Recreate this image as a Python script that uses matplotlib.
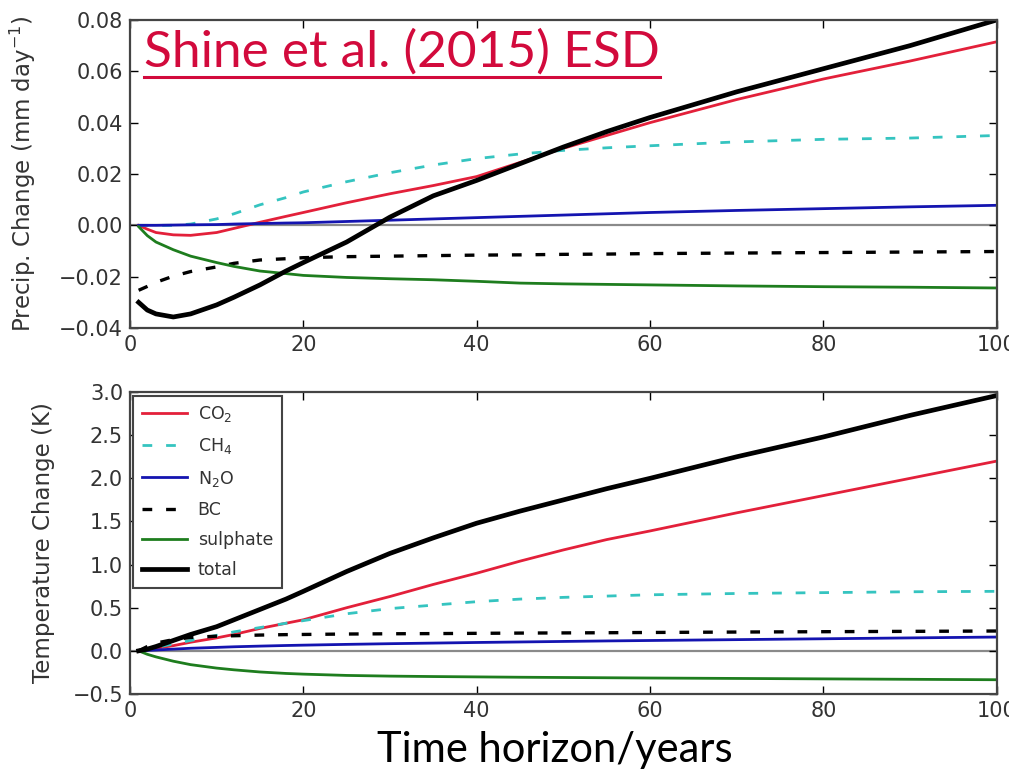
import matplotlib.pyplot as plt
from matplotlib.lines import Line2D

# time horizon (years) at which values were read
years = [1, 2, 3, 5, 7, 10, 12, 15, 18, 20, 25, 30, 35, 40, 45, 50, 55, 60, 70, 80, 90, 100]

# precipitation change (mm/day)
co2_p = [0, -0.0015, -0.0028, -0.0037, -0.0039, -0.0028, -0.0012, 0.0012, 0.0035, 0.005, 0.0088,
         0.0123, 0.0155, 0.019, 0.0245, 0.030, 0.035, 0.040, 0.049, 0.057, 0.064, 0.0715]
ch4_p = [0, 0, 0, 0, 0.0005, 0.0025, 0.0045, 0.008, 0.0108, 0.013, 0.017,
         0.0205, 0.0235, 0.026, 0.0278, 0.0292, 0.0302, 0.031, 0.0325, 0.0335, 0.034, 0.035]
n2o_p = [0, 0, 0, 0.0001, 0.0002, 0.0003, 0.0005, 0.0007, 0.0009, 0.001, 0.0015,
         0.002, 0.0025, 0.003, 0.0035, 0.004, 0.0045, 0.005, 0.0058, 0.0065, 0.0072, 0.0078]
bc_p = [-0.0253, -0.0238, -0.0222, -0.0198, -0.018, -0.0162, -0.0148, -0.0135, -0.013, -0.0126, -0.0122,
        -0.012, -0.0118, -0.0116, -0.0115, -0.0113, -0.0112, -0.011, -0.0108, -0.0106, -0.0104, -0.0102]
so4_p = [-0.0005, -0.004, -0.0065, -0.0095, -0.012, -0.0145, -0.016, -0.0178, -0.0188, -0.0195, -0.0203,
         -0.0208, -0.0212, -0.0218, -0.0225, -0.0228, -0.023, -0.0232, -0.0236, -0.0239, -0.0241, -0.0244]
total_p = [-0.030, -0.033, -0.0345, -0.0357, -0.0345, -0.031, -0.028, -0.0232, -0.0178, -0.0145, -0.0065,
           0.0032, 0.0115, 0.0175, 0.024, 0.0305, 0.0365, 0.042, 0.052, 0.061, 0.070, 0.080]

# temperature change (K)
co2_t = [0, 0.01, 0.03, 0.06, 0.1, 0.15, 0.19, 0.26, 0.32, 0.36, 0.5,
         0.63, 0.77, 0.9, 1.04, 1.17, 1.29, 1.39, 1.6, 1.8, 2.0, 2.2]
ch4_t = [0, 0.02, 0.04, 0.08, 0.12, 0.18, 0.22, 0.27, 0.32, 0.35, 0.43,
         0.49, 0.53, 0.57, 0.6, 0.62, 0.635, 0.65, 0.665, 0.675, 0.685, 0.69]
n2o_t = [0, 0.005, 0.01, 0.02, 0.03, 0.04, 0.047, 0.055, 0.062, 0.066, 0.075,
         0.083, 0.09, 0.097, 0.103, 0.109, 0.115, 0.12, 0.13, 0.14, 0.15, 0.16]
bc_t = [0, 0.05, 0.09, 0.13, 0.155, 0.17, 0.175, 0.183, 0.188, 0.19, 0.195,
        0.198, 0.2, 0.203, 0.206, 0.208, 0.21, 0.213, 0.218, 0.222, 0.226, 0.23]
so4_t = [0, -0.04, -0.07, -0.12, -0.16, -0.2, -0.22, -0.245, -0.262, -0.27, -0.285,
         -0.293, -0.298, -0.302, -0.306, -0.309, -0.312, -0.315, -0.32, -0.325, -0.33, -0.335]
total_t = [0, 0.02, 0.05, 0.12, 0.19, 0.28, 0.36, 0.48, 0.6, 0.69, 0.92,
           1.13, 1.31, 1.48, 1.62, 1.75, 1.88, 2.0, 2.25, 2.48, 2.73, 2.96]

labels = ['CO$_2$', 'CH$_4$', 'N$_2$O', 'BC', 'sulphate', 'total']

plt.rcParams['lines.scale_dashes'] = False

fig = plt.figure(figsize=(10.09, 7.74), dpi=100)
ax1 = fig.add_axes([0.1288, 0.5762, 0.859, 0.398])
ax2 = fig.add_axes([0.1288, 0.1034, 0.859, 0.390])


def draw_panel(ax, co2, ch4, n2o, bc, so4, total):
    ax.axhline(0, color='#8a8a8a', lw=1.6, zorder=1)
    ax.plot(years, co2, color='#e3203a', lw=2.0, label=labels[0])
    ax.plot(years, ch4, color='#35c4c0', lw=2.0, dashes=(7, 10), label=labels[1])
    ax.plot(years, n2o, color='#1414b0', lw=2.0, label=labels[2])
    ax.plot(years, bc, color='k', lw=2.4, dashes=(7, 10), label=labels[3])
    ax.plot(years, so4, color='#1e7d1e', lw=2.0, label=labels[4])
    ax.plot(years, total, color='k', lw=3.4, label=labels[5])
    ax.set_xlim(0, 100)
    ax.set_xticks(range(0, 101, 20))
    ax.tick_params(direction='in', top=True, right=True, length=6, width=1,
                   labelsize=15, labelcolor='#333333', pad=5)
    for s in ax.spines.values():
        s.set_color('#444444')
        s.set_linewidth(1.6)


draw_panel(ax1, co2_p, ch4_p, n2o_p, bc_p, so4_p, total_p)
ax1.set_ylim(-0.04, 0.08)
ax1.set_yticks([-0.04, -0.02, 0.0, 0.02, 0.04, 0.06, 0.08])
ax1.set_ylabel('Precip. Change (mm day$^{-1}$)', fontsize=16.5, color='#333333')
ax1.yaxis.set_label_coords(-0.106, 0.5)

draw_panel(ax2, co2_t, ch4_t, n2o_t, bc_t, so4_t, total_t)
ax2.set_ylim(-0.5, 3.0)
ax2.set_yticks([-0.5, 0.0, 0.5, 1.0, 1.5, 2.0, 2.5, 3.0])
ax2.set_ylabel('Temperature Change (K)', fontsize=16.5, color='#333333')
ax2.yaxis.set_label_coords(-0.087, 0.5)

leg = ax2.legend(loc='upper left', fontsize=12.5, handlelength=2.6, handletextpad=0.6,
                 labelspacing=0.7, borderaxespad=0.2, borderpad=0.5, fancybox=False,
                 framealpha=1)
leg.get_frame().set_edgecolor('#444444')
leg.get_frame().set_linewidth(1.5)
for t in leg.get_texts():
    t.set_color('#333333')

# overlaid citation and axis caption
cite = fig.text(0.143, 0.933, 'Shine et al. (2015) ESD', fontsize=37, color='#d20a3c',
                family='Lato', ha='left', va='center')
fig.text(0.55, 0.031, 'Time horizon/years', fontsize=30, color='k', family='Lato',
         ha='center', va='center')

fig.canvas.draw()
bb = cite.get_window_extent().transformed(fig.transFigure.inverted())
fig.add_artist(Line2D([bb.x0, bb.x1], [bb.y0 - 0.002, bb.y0 - 0.002], color='#d20a3c', lw=2.2))

fig.savefig('out.png', dpi=100)
